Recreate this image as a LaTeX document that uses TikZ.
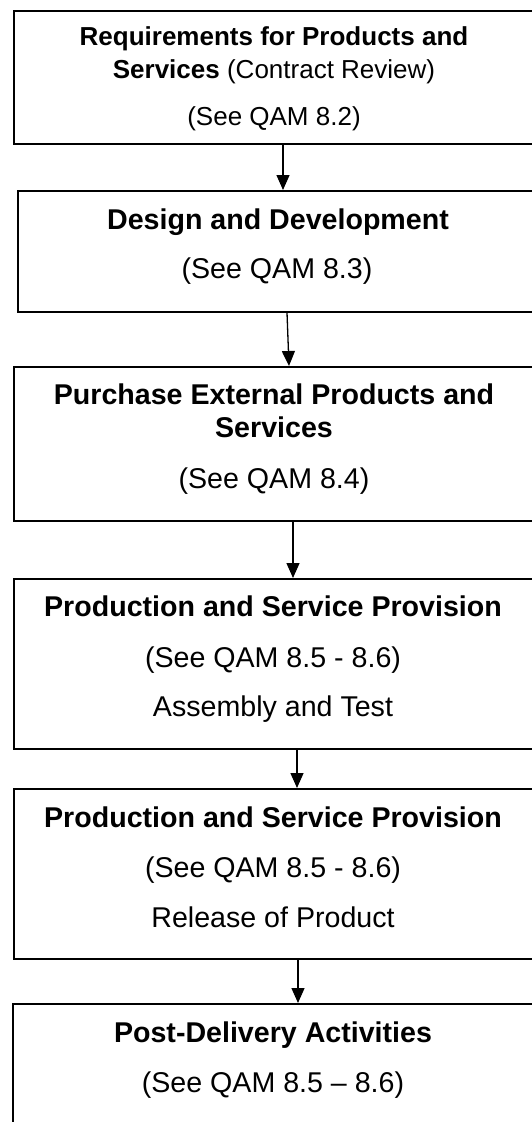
\documentclass[tikz,border=0pt]{standalone}
\usepackage{fontspec}
\setmainfont{Liberation Sans}
\usetikzlibrary{arrows.meta}
\begin{document}
\begin{tikzpicture}[x=1pt,y=-1pt,
  box/.style={draw=black,line width=1.6pt,rectangle,inner sep=0pt,minimum width=522pt,anchor=north west},
  txt/.style={anchor=base,inner sep=0pt,font=\fontsize{28.6}{34}\selectfont},
  txtA/.style={anchor=base,inner sep=0pt,font=\fontsize{26}{31}\selectfont},
  arr/.style={line width=1.3pt,-{Triangle[length=15pt,width=13pt]}}]
\useasboundingbox (0,0) rectangle (532,1122);
% boxes
\node[box,minimum height=133pt] (b1) at (13,10) {};
\node[box,minimum height=121pt] (b2) at (17,190) {};
\node[box,minimum height=154pt] (b3) at (13,366) {};
\node[box,minimum height=170pt] (b4) at (13,578) {};
\node[box,minimum height=170pt] (b5) at (13,788) {};
\node[box,minimum height=140pt] (b6) at (12,1003) {};
% texts
\node[txtA] (t1a) at (274,45) {\bfseries Requirements for Products and};
\node[txtA] (t1b) at (274,78) {\textbf{Services} (Contract Review)};
\node[txtA] (t1c) at (274,125) {(See QAM 8.2)};
\node[txt] (t2a) at (278,229) {\bfseries Design and Development};
\node[txt] (t2b) at (277,278) {(See QAM 8.3)};
\node[txt] (t3a) at (274,404) {\bfseries Purchase External Products and};
\node[txt] (t3b) at (274,437) {\bfseries Services};
\node[txt] (t3c) at (274,488) {(See QAM 8.4)};
\node[txt] (t4a) at (273,616) {\bfseries Production and Service Provision};
\node[txt] (t4b) at (273,667) {(See QAM 8.5 - 8.6)};
\node[txt] (t4c) at (273,716) {Assembly and Test};
\node[txt] (t5a) at (273,827) {\bfseries Production and Service Provision};
\node[txt] (t5b) at (273,877) {(See QAM 8.5 - 8.6)};
\node[txt] (t5c) at (273,927) {Release of Product};
\node[txt] (t6a) at (273,1042) {\bfseries Post-Delivery Activities};
\node[txt] (t6b) at (273,1092) {(See QAM 8.5 – 8.6)};
% arrows
\draw[arr] (b1.south -| 283,0) -- (b2.north -| 283,0);
\draw[arr] (b2.south -| 287,0) -- (b3.north -| 289,0);
\draw[arr] (b3.south -| 293,0) -- (b4.north -| 293,0);
\draw[arr] (b4.south -| 297,0) -- (b5.north -| 297,0);
\draw[arr] (b5.south -| 298,0) -- (b6.north -| 298,0);
\end{tikzpicture}
\end{document}
